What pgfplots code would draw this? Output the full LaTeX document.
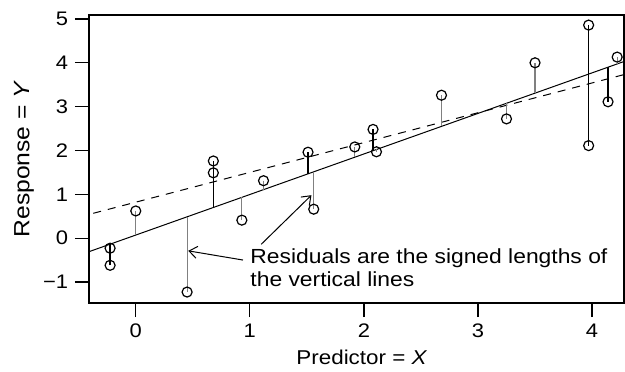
\documentclass[border=0pt]{standalone}
\usepackage{pgfplots}
\pgfplotsset{compat=1.18}
\usepackage{fontspec}
\setmainfont{Liberation Sans}[FakeStretch=1.12]
\usetikzlibrary{arrows.meta}
\begin{document}
\fontsize{9.8}{11.5}\selectfont
\begin{tikzpicture}
\begin{axis}[
  scale only axis, width=267.5pt, height=144pt,
  xmin=-0.41, xmax=4.28, ymin=-1.48, ymax=5.09,
  xtick={0,1,2,3,4}, ytick={-1,0,1,2,3,4,5},
  xticklabels={0,1,2,3,4},
  yticklabels={−1,0,1,2,3,4,5},
  ticklabel style={font=\fontsize{9.8}{11.5}\selectfont},
  tick align=outside, xtick pos=left, ytick pos=left,
  major tick length=7pt,
  tick style={black, line width=0.6pt},
  axis line style={line width=0.6pt},
  xlabel={Predictor = \textit{X}},
  ylabel={Response = \textit{Y}},
  ylabel style={at={(axis description cs:-0.1215,0.5)}, anchor=center, font=\fontsize{11}{13}\selectfont},
  xlabel style={at={(axis description cs:0.51,-0.189)}, anchor=center, font=\fontsize{10}{12}\selectfont},
  unbounded coords=jump,
]
% fitted lines
\addplot[black, line width=0.5pt] coordinates {(-0.5,-0.3925) (4.4,4.14)};
\addplot[black, line width=0.5pt, dash pattern=on 4pt off 3.5pt] coordinates {(-0.5,0.48) (4.4,3.812)};
% residuals (gray)
\addplot[black!50, line width=0.6pt] coordinates {
 (0,0.62) (0,0.07) (0,nan)
 (0.45,-1.23) (0.45,0.486) (0.45,nan)
 (0.93,0.41) (0.93,0.930) (0.93,nan)
 (1.12,1.31) (1.12,1.106) (1.12,nan)
 (1.56,0.66) (1.56,1.513) (1.56,nan)
 (1.92,2.08) (1.92,1.846) (1.92,nan)
 (2.11,1.97) (2.11,2.022) (2.11,nan)
 (2.68,3.26) (2.68,2.549) (2.68,nan)
 (3.25,2.72) (3.25,3.076) (3.25,nan)
 (3.50,4.00) (3.50,3.308) (3.50,nan)
 (4.22,4.13) (4.22,3.974)
};
% residuals (black)
\addplot[black, line width=0.8pt] coordinates {
 (-0.225,-0.62) (-0.225,-0.138) (-0.225,nan)
 (0.68,1.76) (0.68,0.699) (0.68,nan)
 (1.51,1.96) (1.51,1.467) (1.51,nan)
 (2.08,2.48) (2.08,1.994) (2.08,nan)
 (3.97,4.86) (3.97,2.11) (3.97,nan)
 (4.14,3.11) (4.14,3.900)
};
% points
\addplot[only marks, mark=o, mark size=2.5pt, mark options={black, line width=0.6pt}] coordinates {
 (-0.225,-0.23) (-0.225,-0.62) (0,0.62) (0.45,-1.23) (0.68,1.76) (0.68,1.49)
 (0.93,0.41) (1.12,1.31) (1.51,1.96) (1.56,0.66) (1.92,2.08) (2.08,2.48)
 (2.11,1.97) (2.68,3.26) (3.25,2.72) (3.50,4.00) (3.97,4.86) (3.97,2.11)
 (4.14,3.11) (4.22,4.13)
};
% annotation
\draw[line width=0.5pt, -{Straight Barb[length=4pt,width=6pt]}] (axis cs:0.94,-0.50) -- (axis cs:0.46,-0.29);
\draw[line width=0.5pt, -{Straight Barb[length=4pt,width=6pt]}] (axis cs:1.10,-0.14) -- (axis cs:1.54,0.98);
\node[anchor=base west, inner sep=0pt, font=\fontsize{10.2}{12}\selectfont] at (axis cs:1.002,-0.57) {Residuals are the signed lengths of};
\node[anchor=base west, inner sep=0pt, font=\fontsize{10.2}{12}\selectfont] at (axis cs:1.002,-1.095) {the vertical lines};
\end{axis}
\path ([shift={(-44.5pt,-34pt)}]current axis.south west) rectangle ([shift={(0.5pt,7.5pt)}]current axis.north east);
\end{tikzpicture}
\end{document}
